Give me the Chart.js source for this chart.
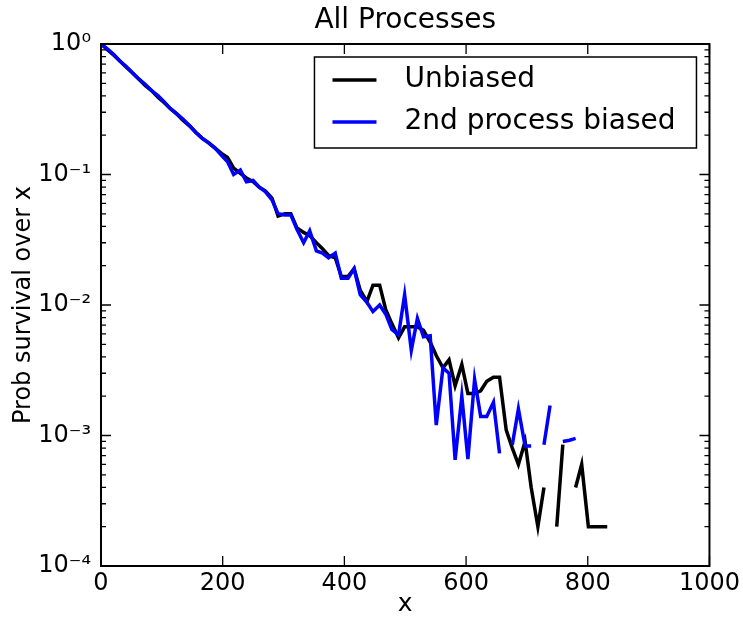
<!DOCTYPE html>
<html>
<head>
<meta charset="utf-8">
<script src="https://cdn.jsdelivr.net/npm/chart.js@4.4.1/dist/chart.umd.min.js"></script>
<style>
  body { margin: 0; background: #fff; }
</style>
</head>
<body>
<canvas id="chart" width="743" height="619"></canvas>
<script>
try {

// bin positions along x
var xBins = [0, 10, 21, 31, 42, 52, 62, 73, 83, 94,
  104, 114, 125, 135, 146, 156, 166, 177, 187, 198,
  208, 218, 229, 239, 250, 260, 270, 281, 291, 302,
  312, 322, 333, 343, 354, 364, 374, 385, 395, 406,
  416, 426, 437, 447, 458, 468, 478, 489, 499, 510,
  520, 530, 541, 551, 562, 572, 582, 593, 603, 614,
  624, 634, 645, 655, 666, 676, 686, 697, 707, 718,
  728, 738, 749, 759, 770, 780, 790, 801, 811, 822,
  832];

// survival probability, null where the bin is empty (gap on log axis)
var unbiased = [1.0, 0.91, 0.82, 0.74, 0.66, 0.60, 0.54, 0.48, 0.44, 0.39,
  0.355, 0.32, 0.29, 0.26, 0.235, 0.21, 0.19, 0.175, 0.16, 0.145,
  0.135, 0.112, 0.102, 0.094, 0.088, 0.080, 0.075, 0.066, 0.048, 0.050,
  0.050, 0.039, 0.036, 0.034, 0.030, 0.027, 0.024, 0.023, 0.0165, 0.0165,
  0.019, 0.013, 0.0106, 0.0142, 0.0142, 0.0092, 0.0072, 0.0056, 0.0068, 0.0068,
  0.0068, 0.0064, 0.0052, 0.0041, 0.0033, 0.0038, 0.0024, 0.0035, 0.0021, 0.0021,
  0.0022, 0.0026, 0.0028, 0.0028, 0.0011, 0.0008, 0.0006, 0.0009, 0.0004, 0.0002,
  0.0004, null, 0.0002, 0.00085, null, 0.0004, 0.0006, 0.0002, 0.0002, 0.0002,
  0.0002];

var biased = [1.0, 0.92, 0.83, 0.74, 0.67, 0.60, 0.54, 0.49, 0.44, 0.40,
  0.36, 0.32, 0.29, 0.265, 0.235, 0.21, 0.19, 0.175, 0.16, 0.14,
  0.125, 0.100, 0.108, 0.088, 0.090, 0.080, 0.074, 0.064, 0.050, 0.049,
  0.049, 0.038, 0.030, 0.037, 0.026, 0.025, 0.023, 0.025, 0.016, 0.016,
  0.019, 0.012, 0.0105, 0.0089, 0.0100, 0.0085, 0.0065, 0.0059, 0.012, 0.0045,
  0.0079, 0.0057, 0.0058, 0.0012, 0.0033, 0.0030, 0.00065, 0.0020, 0.00066, 0.0027,
  0.0014, 0.0014, 0.0018, 0.00073, null, 0.00085, 0.0016, 0.00083, 0.00083, null,
  0.00085, 0.0017, null, 0.0009, 0.00092, 0.00095, null, null, null, null,
  null];

var xTicks = [0, 200, 400, 600, 800, 1000];
var yTicks = [1e-4, 1e-3, 1e-2, 1e-1, 1];
var yTickLabels = ['10\u207B\u2074', '10\u207B\u00B3', '10\u207B\u00B2', '10\u207B\u00B9', '10\u2070'];
var seriesNames = ['Unbiased', '2nd process biased'];

var FONT = 'DejaVu Sans';
Chart.defaults.font.family = FONT;
Chart.defaults.color = '#000';

function toPoints(ys) {
  return xBins.map(function (x, i) { return { x: x, y: ys[i] }; });
}

// frame and inward ticks like matplotlib classic style
var frameTicks = {
  id: 'frameTicks',
  afterDatasetsDraw: function (chart) {
    var ctx = chart.ctx, a = chart.chartArea;
    var xs = chart.scales.x, ys = chart.scales.y;
    ctx.save();
    ctx.strokeStyle = '#000';
    ctx.lineWidth = 1.3;
    ctx.beginPath();
    xTicks.forEach(function (v) {
      var px = xs.getPixelForValue(v);
      ctx.moveTo(px, a.bottom); ctx.lineTo(px, a.bottom - 10);
      ctx.moveTo(px, a.top); ctx.lineTo(px, a.top + 10);
    });
    yTicks.forEach(function (v, k) {
      var py = ys.getPixelForValue(v);
      ctx.moveTo(a.left, py); ctx.lineTo(a.left + 10, py);
      ctx.moveTo(a.right, py); ctx.lineTo(a.right - 10, py);
      if (k < yTicks.length - 1) {
        for (var m = 2; m <= 9; m++) {
          var pm = ys.getPixelForValue(v * m);
          ctx.moveTo(a.left, pm); ctx.lineTo(a.left + 5, pm);
          ctx.moveTo(a.right, pm); ctx.lineTo(a.right - 5, pm);
        }
      }
    });
    ctx.stroke();
    ctx.lineWidth = 2;
    ctx.strokeRect(a.left, a.top, a.right - a.left, a.bottom - a.top);
    ctx.restore();
  }
};

// boxed legend inside the upper right corner
var boxLegend = {
  id: 'boxLegend',
  afterDraw: function (chart) {
    var ctx = chart.ctx, a = chart.chartArea;
    var w = 382, h = 91;
    var bx = a.right - 13 - w, by = a.top + 13;
    ctx.save();
    ctx.fillStyle = '#fff';
    ctx.fillRect(bx, by, w, h);
    ctx.strokeStyle = '#000';
    ctx.lineWidth = 1.5;
    ctx.strokeRect(bx, by, w, h);
    ctx.font = '28px "' + FONT + '"';
    ctx.textBaseline = 'middle';
    ctx.textAlign = 'left';
    chart.data.datasets.forEach(function (ds, i) {
      var ly = by + 23 + i * 42;
      ctx.strokeStyle = ds.borderColor;
      ctx.lineWidth = 3.5;
      ctx.beginPath();
      ctx.moveTo(bx + 18, ly);
      ctx.lineTo(bx + 62, ly);
      ctx.stroke();
      ctx.fillStyle = '#000';
      ctx.fillText(ds.label, bx + 90, ly);
    });
    ctx.restore();
  }
};

new Chart(document.getElementById('chart'), {
  type: 'line',
  data: {
    datasets: [
      {
        label: seriesNames[0],
        data: toPoints(unbiased),
        borderColor: '#000000',
        borderWidth: 3.5,
        pointRadius: 0,
        tension: 0,
        spanGaps: false,
        order: 2
      },
      {
        label: seriesNames[1],
        data: toPoints(biased),
        borderColor: '#0000ff',
        borderWidth: 3.5,
        pointRadius: 0,
        tension: 0,
        spanGaps: false,
        order: 1
      }
    ]
  },
  options: {
    responsive: false,
    animation: false,
    layout: { padding: { left: 0, right: 33, top: 0, bottom: 0 } },
    plugins: {
      legend: { display: false },
      tooltip: { enabled: false },
      title: {
        display: true,
        text: 'All Processes',
        fullSize: false,
        font: { size: 28, weight: 'normal' },
        color: '#000',
        padding: { top: 4, bottom: 6.4 }
      }
    },
    scales: {
      x: {
        type: 'linear',
        min: 0,
        max: 1000,
        grid: { display: false, drawTicks: false },
        border: { display: false },
        ticks: {
          stepSize: 200,
          font: { size: 24 },
          padding: 3,
          maxRotation: 0,
          autoSkip: false,
          callback: function (value) { return String(value); }
        },
        title: { display: true, text: 'x', font: { size: 25 }, padding: { top: 0, bottom: 0 } },
        afterFit: function (s) { s.height = 53; }
      },
      y: {
        type: 'logarithmic',
        min: 1e-4,
        max: 1,
        grid: { display: false, drawTicks: false },
        border: { display: false },
        afterBuildTicks: function (s) {
          s.ticks = yTicks.map(function (v) { return { value: v }; });
        },
        ticks: {
          font: { size: 24 },
          padding: 10,
          autoSkip: false,
          callback: function (value) {
            var k = yTicks.indexOf(value);
            return k >= 0 ? yTickLabels[k] : null;
          }
        },
        title: { display: true, text: 'Prob survival over x', font: { size: 24 }, padding: { top: 9, bottom: 0 } },
        afterFit: function (s) { s.width = 101; }
      }
    }
  },
  plugins: [frameTicks, boxLegend]
});

} catch (err) {
  console.error(err);
}
</script>
</body>
</html>
